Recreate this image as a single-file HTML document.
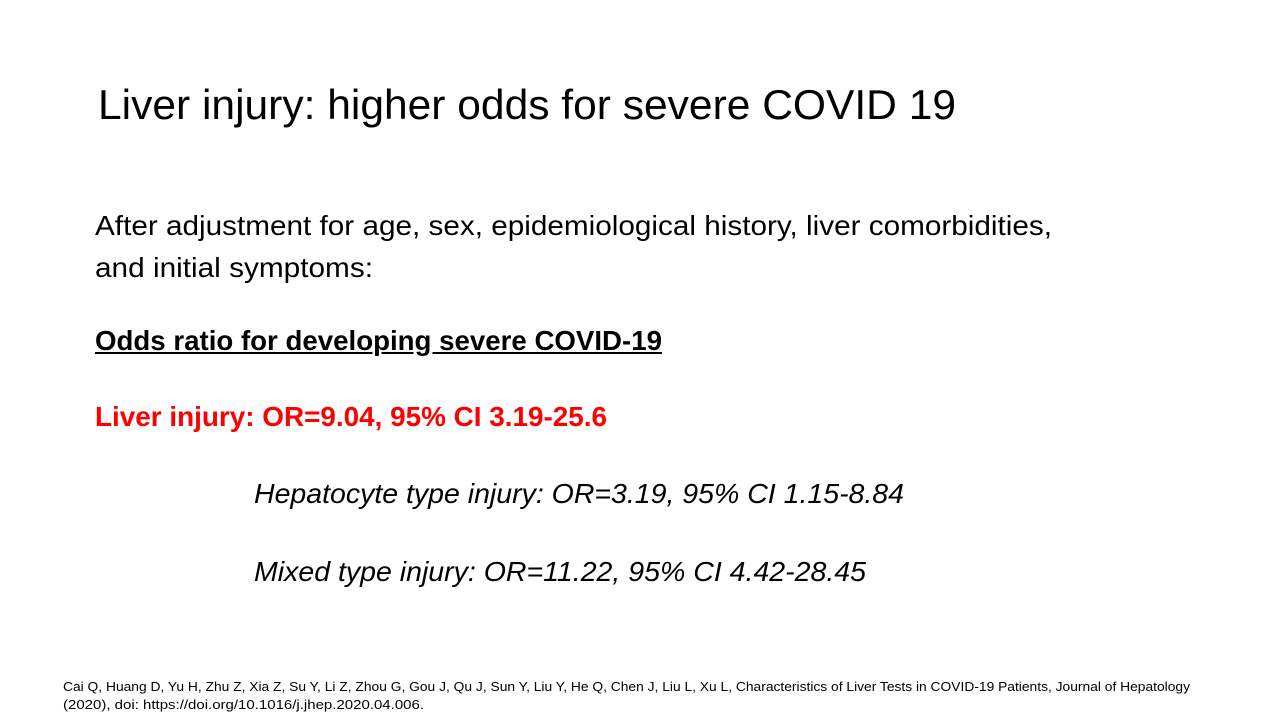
<!DOCTYPE html>
<html>
<head>
<meta charset="utf-8">
<style>
  html,body{margin:0;padding:0;background:#fff;}
  #slide{position:relative;width:1280px;height:720px;overflow:hidden;background:#fff;font-family:"Liberation Sans",sans-serif;color:#000;}
  .t{position:absolute;white-space:nowrap;transform-origin:0 50%;}
</style>
</head>
<body>
<div id="slide">
  <div class="t" data-w="858" style="left:98px;top:82px;font-size:42px;line-height:46px;">Liver injury: higher odds for severe COVID 19</div>
  <div class="t" data-w="957" style="left:95px;top:209px;font-size:28px;line-height:34px;">After adjustment for age, sex, epidemiological history, liver comorbidities,</div>
  <div class="t" data-w="278" style="left:95px;top:251px;font-size:28px;line-height:34px;">and initial symptoms:</div>
  <div class="t" data-w="567" style="left:95px;top:324px;font-size:28px;line-height:34px;font-weight:bold;text-decoration:underline;">Odds ratio for developing severe COVID-19</div>
  <div class="t" data-w="512" style="left:95px;top:400px;font-size:28px;line-height:34px;font-weight:bold;color:#ff0000;">Liver injury: OR=9.04, 95% CI 3.19-25.6</div>
  <div class="t" data-w="650" style="left:254px;top:477px;font-size:28px;line-height:34px;font-style:italic;">Hepatocyte type injury: OR=3.19, 95% CI 1.15-8.84</div>
  <div class="t" data-w="612" style="left:254px;top:555px;font-size:28px;line-height:34px;font-style:italic;">Mixed type injury: OR=11.22, 95% CI 4.42-28.45</div>
  <div class="t" data-w="1127" style="left:63px;top:679px;font-size:13px;line-height:16px;">Cai Q, Huang D, Yu H, Zhu Z, Xia Z, Su Y, Li Z, Zhou G, Gou J, Qu J, Sun Y, Liu Y, He Q, Chen J, Liu L, Xu L, Characteristics of Liver Tests in COVID-19 Patients, Journal of Hepatology</div>
  <div class="t" data-w="361" style="left:63px;top:697px;font-size:13px;line-height:16px;">(2020), doi: https://doi.org/10.1016/j.jhep.2020.04.006.</div>
</div>
<script>
  document.querySelectorAll('.t').forEach(function(el){
    var w = parseFloat(el.getAttribute('data-w'));
    var a = el.getBoundingClientRect().width;
    if (a > 0) el.style.transform = 'scaleX(' + (w / a) + ')';
  });
</script>
</body>
</html>
